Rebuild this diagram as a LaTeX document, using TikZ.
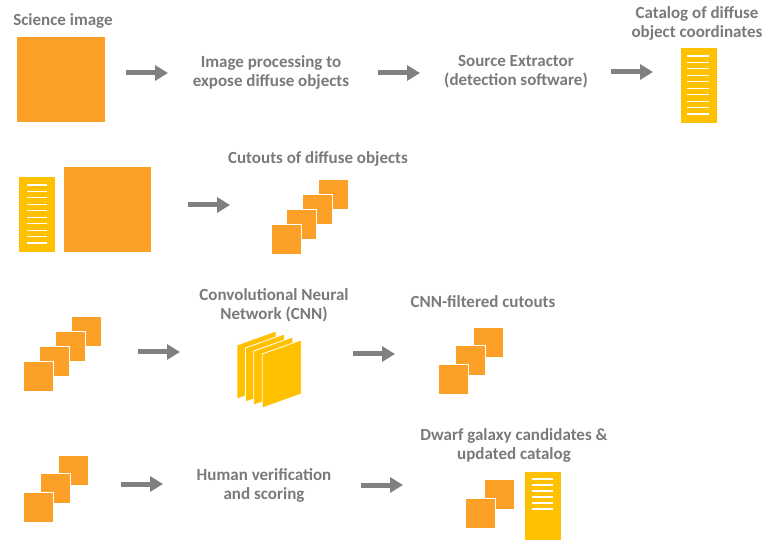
\documentclass[tikz,border=0pt]{standalone}
\usepackage{fontspec}
\setmainfont{Carlito}
\usetikzlibrary{arrows.meta}
\definecolor{sqorange}{HTML}{FDA027}
\definecolor{catyellow}{HTML}{FFC000}
\definecolor{txtgray}{HTML}{7A7A7A}
\definecolor{arrgray}{HTML}{808080}
\tikzset{
  lbl/.style={font=\bfseries\fontsize{17}{19}\selectfont, text=txtgray, align=center, inner sep=0pt},
  flowarrow/.style={arrgray, line width=5pt, -{Triangle[length=13pt,width=15pt]}},
  sq/.style={fill=sqorange, draw=white, line width=0.8pt},
  catline/.style={white, line width=1.1pt},
  layer/.style={fill=catyellow, draw=white, line width=0.8pt},
}
\begin{document}
\begin{tikzpicture}[x=1pt,y=-1pt]
\useasboundingbox (0,0) rectangle (764,540);
\fill[white] (0,0) rectangle (764,540);

% ---------- Row 1 ----------
\node[lbl] (t1) at (63,21) {Science image};
\fill[sqorange] (17,37) rectangle (105,122);
\node[lbl] (t2) at (271,72) {Image processing to\\expose diffuse objects};
\node[lbl] (t3) at (516,72) {Source Extractor\\(detection software)};
\node[lbl] (t4) at (697,23) {Catalog of diffuse\\object coordinates};
\fill[catyellow] (681,48) rectangle (717,123);
\foreach \i in {0,...,9} \draw[catline] (687,{56+6.45*\i}) -- (709,{56+6.45*\i});
\coordinate (a1s) at (126,73); \coordinate (a1e) at (168,73);
\coordinate (a2s) at (378,73); \coordinate (a2e) at (420,73);
\coordinate (a3s) at (611,72); \coordinate (a3e) at (653,72);
\draw[flowarrow] (a1s) -- (a1e);
\draw[flowarrow] (a2s) -- (a2e);
\draw[flowarrow] (a3s) -- (a3e);

% ---------- Row 2 ----------
\fill[catyellow] (19,177) rectangle (55,252);
\foreach \i in {0,...,9} \draw[catline] (27,{185+6.45*\i}) -- (47,{185+6.45*\i});
\fill[sqorange] (64,167) rectangle (151,252);
\coordinate (b1s) at (188,205); \coordinate (b1e) at (230,205);
\draw[flowarrow] (b1s) -- (b1e);
\node[lbl] (t5) at (318,159) {Cutouts of diffuse objects};
\foreach \i in {0,...,3} \draw[sq] ({318-15.7*\i},{179+15*\i}) rectangle ++(30,30);

% ---------- Row 3 ----------
\foreach \i in {0,...,3} \draw[sq] ({71-16*\i},{316+15*\i}) rectangle ++(30,30);
\coordinate (c1s) at (138,352); \coordinate (c1e) at (180,352);
\draw[flowarrow] (c1s) -- (c1e);
\node[lbl] (t6) at (274,305.5) {Convolutional Neural\\Network (CNN)};
\foreach \i in {0,...,3}
  \draw[layer] ({237+8.4*\i},{345+3*\i}) -- ++(39,-14) -- ++(0,54) -- ++(-39,14) -- cycle;
\coordinate (c2s) at (353,354); \coordinate (c2e) at (395,354);
\draw[flowarrow] (c2s) -- (c2e);
\node[lbl] (t7) at (483,302) {CNN-filtered cutouts};
\foreach \i in {0,...,2} \draw[sq] ({473-17.5*\i},{327+18.5*\i}) rectangle ++(30,30);

% ---------- Row 4 ----------
\foreach \i in {0,...,2} \draw[sq] ({58-17.5*\i},{455+18.5*\i}) rectangle ++(30,30);
\coordinate (d1s) at (121,484); \coordinate (d1e) at (163,484);
\draw[flowarrow] (d1s) -- (d1e);
\node[lbl] (t8) at (264,485) {Human verification\\and scoring};
\coordinate (d2s) at (361,485); \coordinate (d2e) at (403,485);
\draw[flowarrow] (d2s) -- (d2e);
\node[lbl] (t9) at (514,445.5) {Dwarf galaxy candidates \&\\updated catalog};
\draw[sq] (484,479) rectangle (514,509);
\draw[sq] (465,498) rectangle (495,528);
\fill[catyellow] (525,472) rectangle (561,541);
\foreach \i in {0,...,5} \draw[catline] (532,{479+6*\i}) -- (553,{479+6*\i});
\end{tikzpicture}
\end{document}
